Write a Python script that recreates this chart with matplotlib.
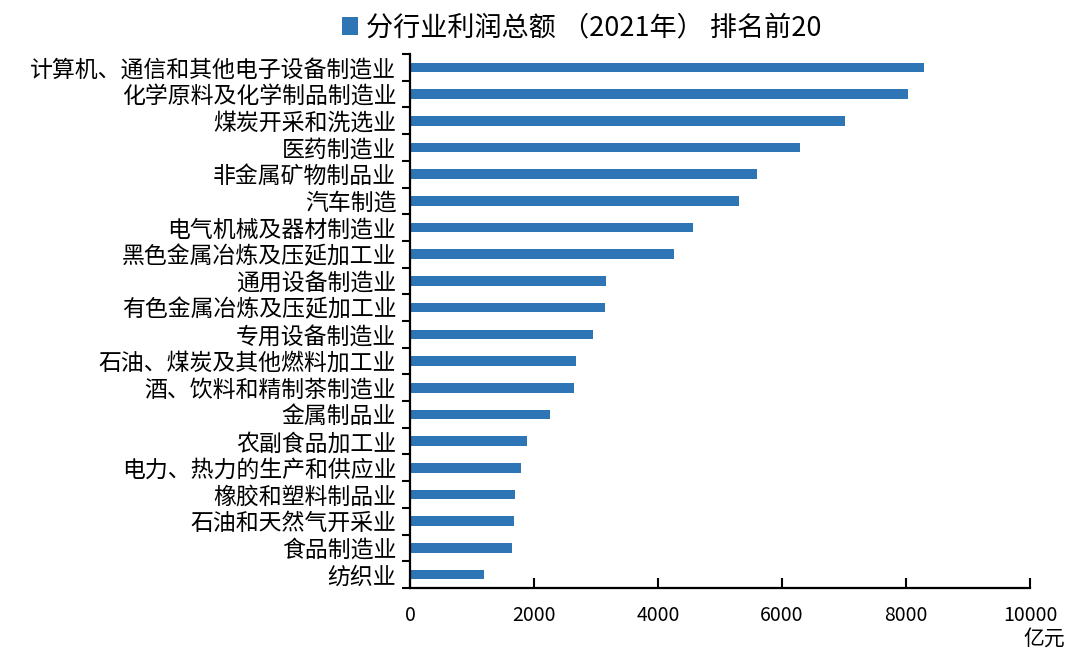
import matplotlib
matplotlib.use("Agg")
import matplotlib.pyplot as plt
import numpy as np

plt.rcParams["font.family"] = ["Noto Sans CJK SC", "DejaVu Sans"]

industries = [
    "计算机、通信和其他电子设备制造业",
    "化学原料及化学制品制造业",
    "煤炭开采和洗选业",
    "医药制造业",
    "非金属矿物制品业",
    "汽车制造",
    "电气机械及器材制造业",
    "黑色金属冶炼及压延加工业",
    "通用设备制造业",
    "有色金属冶炼及压延加工业",
    "专用设备制造业",
    "石油、煤炭及其他燃料加工业",
    "酒、饮料和精制茶制造业",
    "金属制品业",
    "农副食品加工业",
    "电力、热力的生产和供应业",
    "橡胶和塑料制品业",
    "石油和天然气开采业",
    "食品制造业",
    "纺织业",
]
profit = [8283, 8040, 7023, 6290, 5600, 5306, 4560, 4250, 3160, 3143,
          2952, 2674, 2642, 2253, 1885, 1788, 1697, 1681, 1648, 1194]
legend_label = "分行业利润总额 （2021年） 排名前20"
unit_label = "亿元"
xticks = [0, 2000, 4000, 6000, 8000, 10000]

bar_color = "#2E75B6"

fig = plt.figure(figsize=(10.67, 6.5), dpi=100)
ax = fig.add_axes([0.3843, 0.0954, 0.581, 0.8215])

y = np.arange(len(industries))
bars = ax.barh(y, profit, height=0.36, color=bar_color, label=legend_label)

ax.set_ylim(len(industries) - 0.5, -0.5)
ax.set_xlim(0, 10000)
ax.set_yticks(y)
ax.set_yticklabels(industries, fontsize=16.5)
ax.tick_params(axis="y", which="major", length=0, pad=10)
ax.set_yticks(np.arange(-0.5, len(industries), 1), minor=True)
ax.tick_params(axis="y", which="minor", direction="out", length=6, width=1.5)

ax.set_xticks(xticks)
ax.set_xticklabels([str(t) for t in xticks], fontsize=14)
ax.tick_params(axis="x", direction="in", length=7, width=1.5, pad=12)

for side in ("top", "right"):
    ax.spines[side].set_visible(False)
for side in ("left", "bottom"):
    ax.spines[side].set_linewidth(1.6)

fig.text(0.998, 0.0, unit_label, ha="right", va="bottom", fontsize=15)

fig.legend(handles=[bars], labels=[legend_label], loc="upper center",
           bbox_to_anchor=(0.545, 1.015), frameon=False, fontsize=19.5,
           handlelength=0.6, handleheight=0.6, handletextpad=0.3)

fig.savefig("out.png", dpi=100)
